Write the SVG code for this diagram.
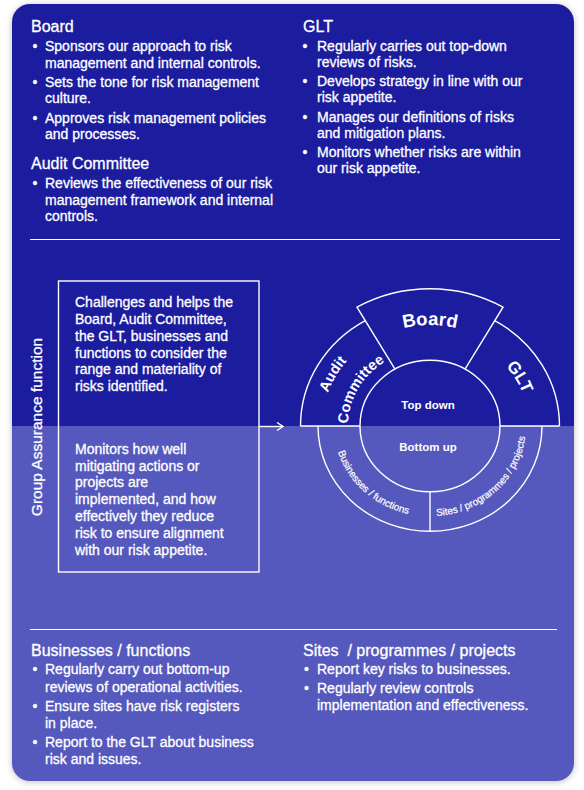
<svg xmlns="http://www.w3.org/2000/svg" width="584" height="790" viewBox="0 0 584 790">
<style>
.t{font-family:"Liberation Sans",Arial,sans-serif;fill:#fff;font-size:14px;stroke:#fff;stroke-width:0.3px}
.h{font-size:16px}
.b{font-weight:bold;stroke-width:0}
.ln{stroke:#fff;stroke-width:1.4;fill:none}
.dv{stroke:#fff;stroke-width:1;fill:none}
.ring{font-size:10px;stroke-width:0.2px}
</style>
<defs>
<filter id="sh" x="-5%" y="-5%" width="110%" height="110%">
<feDropShadow dx="0" dy="1" stdDeviation="3" flood-color="#000" flood-opacity="0.25"/>
</filter>
<marker id="chev" markerWidth="10" markerHeight="10" refX="7" refY="4.5" orient="auto" markerUnits="userSpaceOnUse">
<path d="M1,0.5 L7,4.5 L1,8.5" stroke="#fff" stroke-width="1.4" fill="none"/>
</marker>
<path id="pBoard" d="M354.06,354.61 A107.4,100.96 0 0 1 505.94,354.61"/>
<path id="pAudit" d="M323.64,443.63 A108,101.52 0 0 1 393.06,330.6"/>
<path id="pComm" d="M349.25,439.38 A82,77.08 0 0 1 401.96,353.57"/>
<path id="pGLT" d="M463.86,338.55 A99,93.06 0 0 1 527.5,442.16"/>
<path id="pBus" d="M335.46,410.33 A96,90.24 0 0 0 446.67,514.87"/>
<path id="pSites" d="M413.33,514.87 A96,90.24 0 0 0 524.54,410.33"/>
</defs>
<rect width="584" height="790" fill="#fff"/>
<g id="card" filter="url(#sh)">
<path d="M12,426 V22 A18,18 0 0 1 30,4 H556 A18,18 0 0 1 574,22 V426 Z" fill="#1F1F9F"/>
<path d="M12,426 H574 V763 A18,18 0 0 1 556,781 H30 A18,18 0 0 1 12,763 Z" fill="#5558BD"/>
</g>
<g id="dividers">
<path class="dv" d="M30,239.5 H560"/>
<path class="dv" d="M30,629.5 H557"/>
</g>
<g id="board-roles" class="t">
<text class="h" x="31" y="32">Board</text>
<text x="32.5" y="51">•</text><text x="45" y="51">Sponsors our approach to risk</text>
<text x="45" y="67.5">management and internal controls.</text>
<text x="32.5" y="86.5">•</text><text x="45" y="86.5">Sets the tone for risk management</text>
<text x="45" y="103">culture.</text>
<text x="32.5" y="122.5">•</text><text x="45" y="122.5">Approves risk management policies</text>
<text x="45" y="139">and processes.</text>
</g>
<g id="audit-roles" class="t">
<text class="h" x="31" y="168.5">Audit Committee</text>
<text x="32.5" y="187.5">•</text><text x="45" y="187.5">Reviews the effectiveness of our risk</text>
<text x="45" y="204.5">management framework and internal</text>
<text x="45" y="221">controls.</text>
</g>
<g id="glt-roles" class="t">
<text class="h" x="303" y="32">GLT</text>
<text x="302.5" y="51">•</text><text x="317" y="51">Regularly carries out top-down</text>
<text x="317" y="67">reviews of risks.</text>
<text x="302.5" y="86">•</text><text x="317" y="86">Develops strategy in line with our</text>
<text x="317" y="102">risk appetite.</text>
<text x="302.5" y="121.5">•</text><text x="317" y="121.5">Manages our definitions of risks</text>
<text x="317" y="137.5">and mitigation plans.</text>
<text x="302.5" y="156.5">•</text><text x="317" y="156.5">Monitors whether risks are within</text>
<text x="317" y="172.5">our risk appetite.</text>
</g>
<g id="group-assurance" class="t">
<text transform="translate(42,427) rotate(-90)" text-anchor="middle" style="font-size:15.5px">Group Assurance function</text>
<rect class="ln" x="58.5" y="281" width="200.5" height="291" stroke-width="1.2"/>
<text x="75" y="306.5">Challenges and helps the</text>
<text x="75" y="323.5">Board, Audit Committee,</text>
<text x="75" y="340.5">the GLT, businesses and</text>
<text x="75" y="357.5">functions to consider the</text>
<text x="75" y="374">range and materiality of</text>
<text x="75" y="391">risks identified.</text>
<text x="75" y="454">Monitors how well</text>
<text x="75" y="471">mitigating actions or</text>
<text x="75" y="487">projects are</text>
<text x="75" y="504">implemented, and how</text>
<text x="75" y="521">effectively they reduce</text>
<text x="75" y="538">risk to ensure alignment</text>
<text x="75" y="555">with our risk appetite.</text>
</g>
<g id="connectors">
<path class="ln" d="M259,426.5 H283" marker-end="url(#chev)"/>
</g>
<g id="risk-wheel">
<g id="wheel-lines">
<ellipse class="ln" cx="430" cy="426" rx="70" ry="65.8"/>
<path class="ln" d="M300.5,426 A129.5,121.73 0 0 1 365.25,320.58"/>
<path class="ln" d="M494.75,320.58 A129.5,121.73 0 0 1 559.5,426"/>
<path class="ln" d="M395,369.02 L357,307.15 A146,137.24 0 0 1 503,307.15 L465,369.02"/>
<path class="ln" d="M300.5,426 H360 M500,426 H559.5"/>
<path class="ln" d="M318,426 A112,105.28 0 0 0 542,426"/>
<path class="ln" d="M430,491.8 V531.28"/>
</g>
<g id="seg-board" class="t b"><text style="font-size:18.5px"><textPath href="#pBoard" startOffset="50%" text-anchor="middle">Board</textPath></text></g>
<g id="seg-audit" class="t b" style="font-size:14.5px">
<text><textPath href="#pAudit" startOffset="48.5%" text-anchor="middle">Audit</textPath></text>
<text><textPath href="#pComm" startOffset="48.5%" text-anchor="middle">Committee</textPath></text>
</g>
<g id="seg-glt" class="t b"><text style="font-size:17px"><textPath href="#pGLT" startOffset="50.6%" text-anchor="middle">GLT</textPath></text></g>
<g id="core" class="t b" style="font-size:11.5px">
<text x="428" y="408.5" text-anchor="middle">Top down</text>
<text x="428" y="451" text-anchor="middle">Bottom up</text>
</g>
<g id="seg-businesses" class="t ring"><text><textPath href="#pBus" startOffset="50.9%" text-anchor="middle" textLength="98" lengthAdjust="spacingAndGlyphs">Businesses / functions</textPath></text></g>
<g id="seg-sites" class="t ring"><text><textPath href="#pSites" startOffset="49.1%" text-anchor="middle" textLength="129" lengthAdjust="spacingAndGlyphs">Sites / programmes / projects</textPath></text></g>
</g>
<g id="business-roles" class="t">
<text class="h" x="31" y="656">Businesses / functions</text>
<text x="32.5" y="674">•</text><text x="45" y="674">Regularly carry out bottom-up</text>
<text x="45" y="691.5">reviews of operational activities.</text>
<text x="32.5" y="711">•</text><text x="45" y="711">Ensure sites have risk registers</text>
<text x="45" y="728">in place.</text>
<text x="32.5" y="746.5">•</text><text x="45" y="746.5">Report to the GLT about business</text>
<text x="45" y="763.5">risk and issues.</text>
</g>
<g id="sites-roles" class="t">
<text class="h" x="303" y="656" xml:space="preserve">Sites  / programmes / projects</text>
<text x="304" y="674">•</text><text x="317" y="674">Report key risks to businesses.</text>
<text x="304" y="693">•</text><text x="317" y="693">Regularly review controls</text>
<text x="317" y="710">implementation and effectiveness.</text>
</g>
</svg>
